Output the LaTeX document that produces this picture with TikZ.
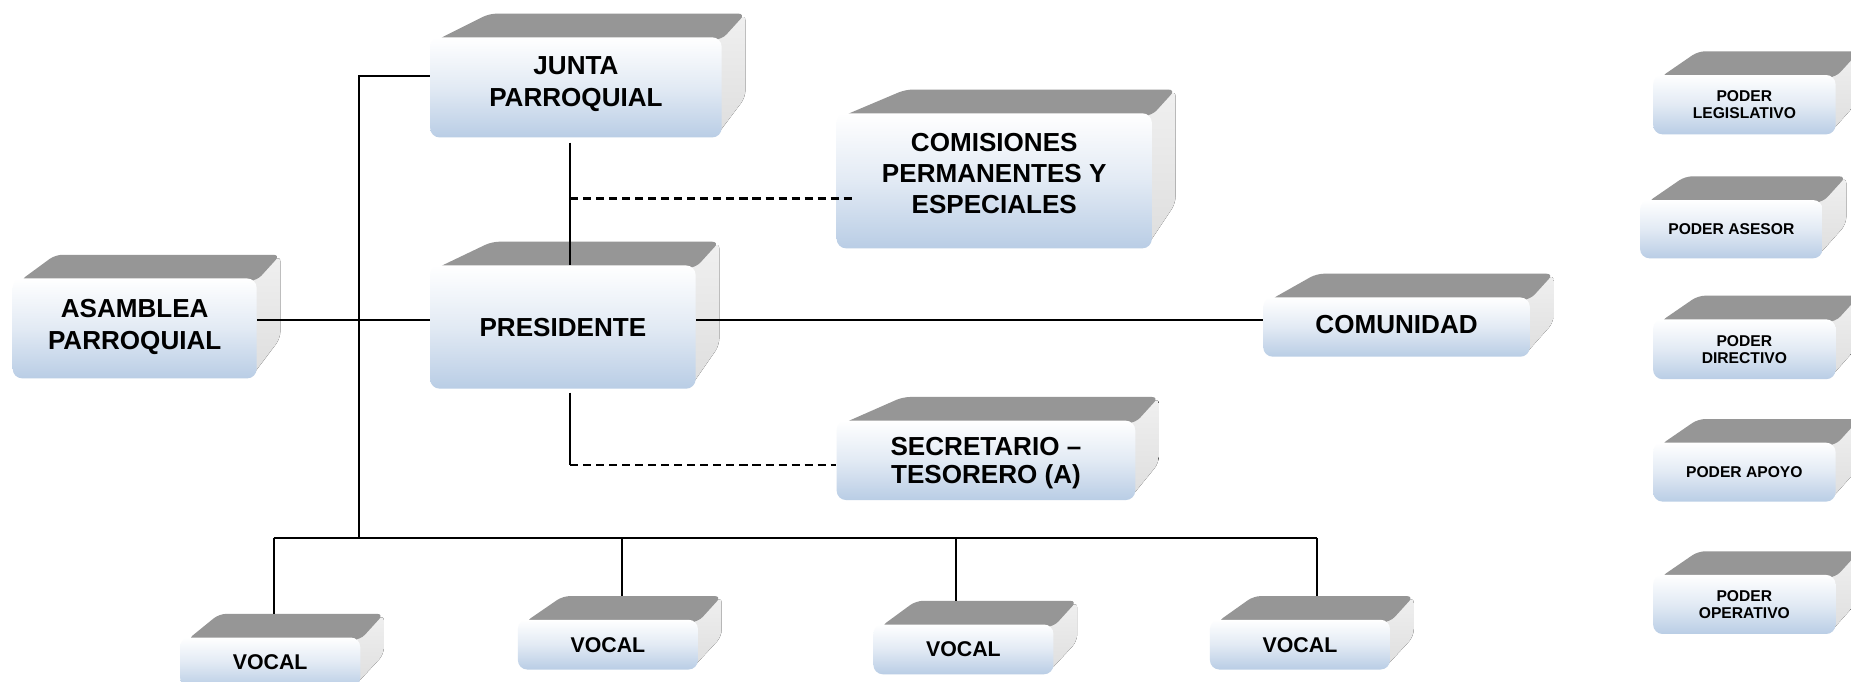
\documentclass[tikz,border=0pt]{standalone}
\usepackage{fontspec}
\setmainfont{Liberation Sans}
\usetikzlibrary{calc}
\definecolor{topgray}{RGB}{150,150,150}
\definecolor{sidegray}{RGB}{222,222,222}
\definecolor{sidelight}{RGB}{240,240,240}
\definecolor{frontbot}{RGB}{185,205,229}
\definecolor{frontmid}{RGB}{226,234,244}
\tikzset{
 topface/.style={fill=topgray},
 sideface/.style={top color=sidelight, bottom color=sidegray},
 frontface/.style={rectangle, rounded corners=4pt, top color=white, bottom color=frontbot, middle color=frontmid, inner sep=0pt, align=center},
 conn/.style={line width=0.9pt, black},
 dashconn/.style={conn, dash pattern=on 3.4pt off 2.1pt},
}
% #1 name, #2 L, #3 T, #4 R, #5 B, #6 left offset of top face, #7 font, #8 text depth, #9 text
\newcommand\tdbox[9]{%
 \pgfmathsetmacro\tdhb{22+0.14*(#5-#3)}%
 \fill[sideface, rounded corners=3pt] (#4-6,#3+4) -- (#4+20,#3-20) -- (#4+20,#5-\tdhb) -- (#4-4,#5-2) -- cycle;
 \fill[topface, rounded corners=3pt] (#2+6,#3+2) -- (#2+#6,#3-20) -- (#4+20,#3-20) -- (#4,#3+2) -- cycle;
 \node[frontface, minimum width={(#4-#2)*0.5pt}, minimum height={(#5-#3)*0.5pt}, text depth=#8, font=\bfseries#7] (#1) at ({(#2+#4)/2},{(#3+#5)/2}) {#9};
 \coordinate (#1-back) at ({(#2+#4)/2},#3-20);
}
\begin{document}
\begin{tikzpicture}[x=0.5pt, y=-0.5pt]
\fill[white] (0,0) rectangle (1562,575.5);
\useasboundingbox (0,0) rectangle (1562,575.5);

% main boxes
\tdbox{junta}{363}{31.5}{609}{116}{50}{\fontsize{11}{13.4}\selectfont}{4.9pt}{JUNTA\\PARROQUIAL}
\tdbox{comisiones}{706}{95.6}{972}{209.6}{58}{\fontsize{11}{13}\selectfont}{6.3pt}{COMISIONES\\PERMANENTES Y\\ESPECIALES}
\tdbox{presidente}{363}{224}{587}{328}{52}{\fontsize{11}{13}\selectfont}{0pt}{PRESIDENTE}
\tdbox{asamblea}{10.7}{235}{216.6}{319.3}{36}{\fontsize{11}{13.8}\selectfont}{3.3pt}{ASAMBLEA\\PARROQUIAL}
\tdbox{comunidad}{1066}{251}{1291}{301}{45}{\fontsize{11}{13}\selectfont}{2.2pt}{COMUNIDAD}
\tdbox{secretario}{706}{355}{958}{422}{56}{\fontsize{11}{12}\selectfont}{0pt}{SECRETARIO –\\TESORERO (A)}

% vocales
\tdbox{vocal1}{152}{538}{304}{580}{33}{\fontsize{9}{11}\selectfont}{0pt}{VOCAL}
\tdbox{vocal2}{437}{523}{589}{565}{38}{\fontsize{9}{11}\selectfont}{0pt}{VOCAL}
\tdbox{vocal3}{737}{527}{889}{569}{36}{\fontsize{9}{11}\selectfont}{0pt}{VOCAL}
\tdbox{vocal4}{1021}{523}{1173}{565}{37}{\fontsize{9}{11}\selectfont}{0pt}{VOCAL}

% legend
\tdbox{legislativo}{1395}{63.3}{1549}{113.4}{38}{\fontsize{6.6}{7.35}\selectfont}{0pt}{PODER\\LEGISLATIVO}
\tdbox{asesor}{1384}{168.8}{1538}{218}{38}{\fontsize{6.6}{7.35}\selectfont}{0pt}{PODER ASESOR}
\tdbox{directivo}{1395}{269.5}{1549}{320}{38}{\fontsize{6.6}{7.35}\selectfont}{0pt}{PODER\\DIRECTIVO}
\tdbox{apoyo}{1395}{373.6}{1549}{423.3}{38}{\fontsize{6.6}{7.35}\selectfont}{0pt}{PODER APOYO}
\tdbox{operativo}{1395}{485.2}{1549}{535}{38}{\fontsize{6.6}{7.35}\selectfont}{0pt}{PODER\\OPERATIVO}

% connectors
\coordinate (vtop) at (303,64);
\coordinate (vbot) at (303,454);
\coordinate (hmid) at (0,270);
\coordinate (jx) at (481,0);
\coordinate (cx) at (481,167.5);
\coordinate (sx) at (481,392.5);
\coordinate (b1) at (231,454);
\coordinate (b2) at (525,454);
\coordinate (b3) at (807,454);
\coordinate (b4) at (1111,454);

\draw[conn] (junta.west |- vtop) -- (vtop) -- (vbot);
\draw[conn] (asamblea.east |- hmid) -- (presidente.west |- hmid);
\draw[conn] (presidente.east |- hmid) -- (comunidad.west |- hmid);
\draw[conn, shorten <=2pt] (junta.south -| jx) -- (presidente.north -| jx);
\draw[dashconn, shorten >=-6.5pt] (cx) -- (comisiones.west |- cx);
\draw[conn, shorten <=1.5pt] (presidente.south -| jx) -- (sx);
\draw[dashconn] (sx) -- (secretario.west |- sx);
\draw[conn] (b1) -- (b4);
\draw[conn] (b1) -- (b1 |- vocal1-back);
\draw[conn] (b2) -- (b2 |- vocal2-back);
\draw[conn] (b3) -- (b3 |- vocal3-back);
\draw[conn] (b4) -- (b4 |- vocal4-back);
\end{tikzpicture}
\end{document}
